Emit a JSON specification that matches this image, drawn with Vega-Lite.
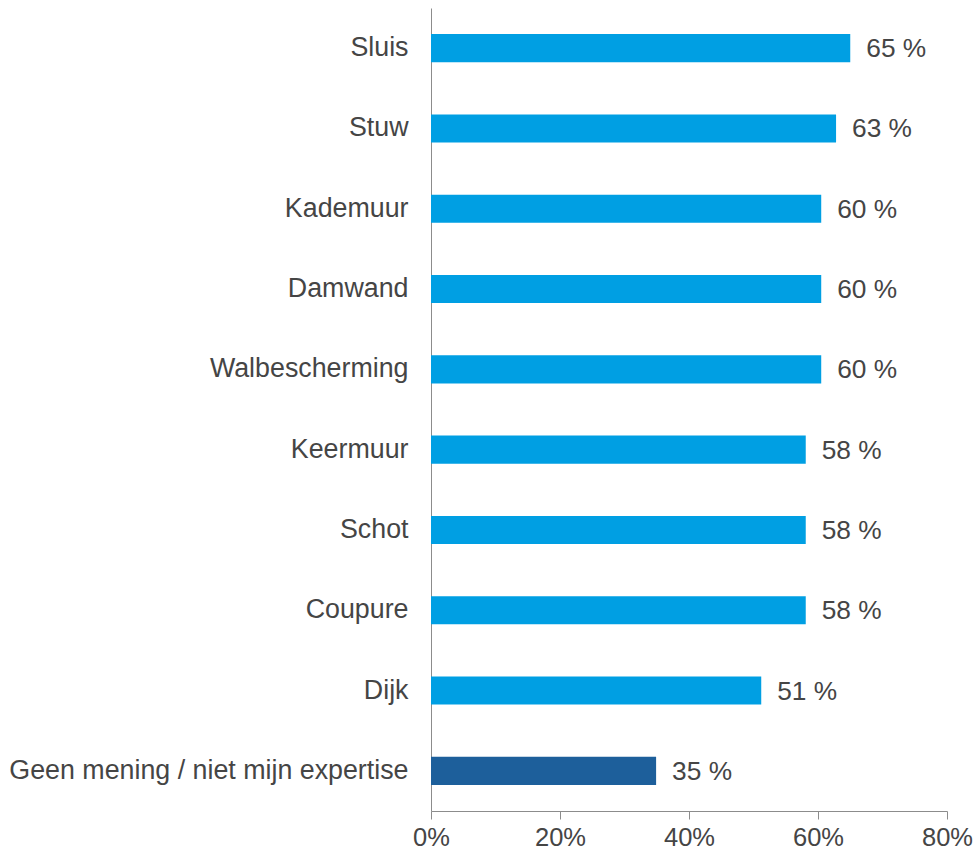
{
  "$schema": "https://vega.github.io/schema/vega-lite/v6.json",
  "autosize": {"type": "none"},
  "padding": {"left": 431, "top": 8, "right": 31, "bottom": 46},
  "width": 516,
  "height": 803,
  "background": "white",
  "config": {
    "view": {"stroke": null},
    "font": "Liberation Sans"
  },
  "data": {
    "values": [
      {"item": "Sluis", "value": 0.65, "label": "65 %", "group": "a"},
      {"item": "Stuw", "value": 0.628, "label": "63 %", "group": "a"},
      {"item": "Kademuur", "value": 0.605, "label": "60 %", "group": "a"},
      {"item": "Damwand", "value": 0.605, "label": "60 %", "group": "a"},
      {"item": "Walbescherming", "value": 0.605, "label": "60 %", "group": "a"},
      {"item": "Keermuur", "value": 0.581, "label": "58 %", "group": "a"},
      {"item": "Schot", "value": 0.581, "label": "58 %", "group": "a"},
      {"item": "Coupure", "value": 0.581, "label": "58 %", "group": "a"},
      {"item": "Dijk", "value": 0.512, "label": "51 %", "group": "a"},
      {"item": "Geen mening / niet mijn expertise", "value": 0.349, "label": "35 %", "group": "b"}
    ]
  },
  "encoding": {
    "y": {
      "field": "item",
      "type": "nominal",
      "sort": null,
      "scale": {"paddingInner": 0.65, "paddingOuter": 0.325},
      "axis": {
        "title": null,
        "ticks": false,
        "domainColor": "#8c8c8c",
        "domainWidth": 1,
        "labelFontSize": 26.8,
        "labelColor": "#454545",
        "labelPadding": 23,
        "labelLimit": 600
      }
    },
    "x": {
      "field": "value",
      "type": "quantitative",
      "scale": {"domain": [0, 0.8], "nice": false, "zero": true},
      "axis": {
        "title": null,
        "format": "%",
        "values": [0, 0.2, 0.4, 0.6, 0.8],
        "grid": false,
        "domainColor": "#8c8c8c",
        "tickColor": "#8c8c8c",
        "tickSize": 8,
        "labelFontSize": 25.5,
        "labelColor": "#454545",
        "labelPadding": 6,
        "labelFlush": false
      }
    }
  },
  "layer": [
    {
      "mark": {"type": "bar"},
      "encoding": {
        "color": {
          "field": "group",
          "type": "nominal",
          "scale": {"domain": ["a", "b"], "range": ["#009fe3", "#1d5f9b"]},
          "legend": null
        }
      }
    },
    {
      "mark": {"type": "text", "align": "left", "baseline": "middle", "dx": 16, "dy": 1, "fontSize": 26.3, "color": "#454545"},
      "encoding": {"text": {"field": "label"}}
    }
  ]
}
